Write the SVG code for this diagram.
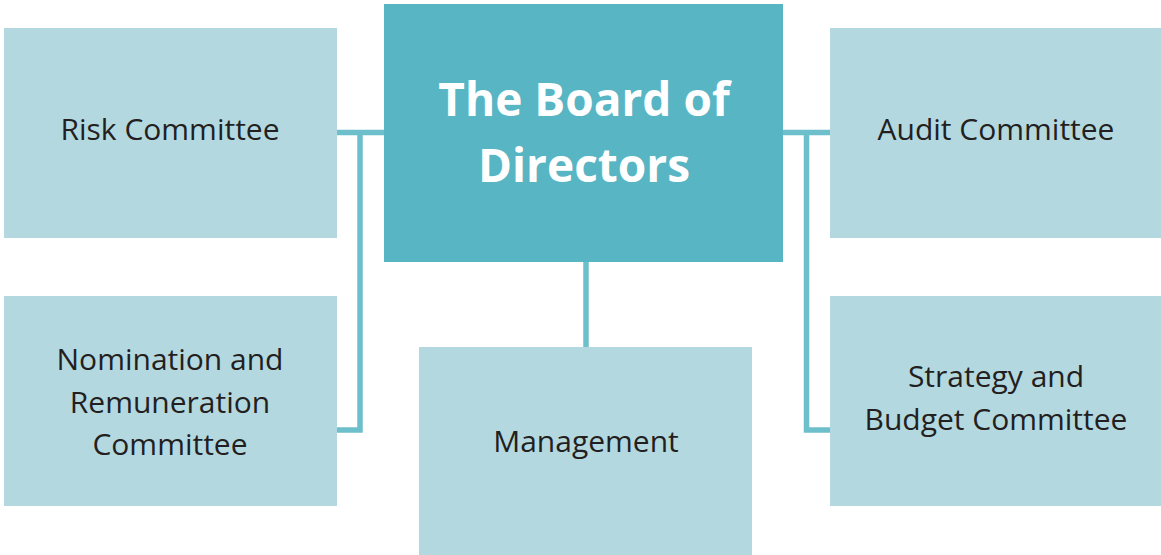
<svg xmlns="http://www.w3.org/2000/svg" width="1161" height="555" viewBox="0 0 1161 555">
<style>
.box{fill:#b4d8e0}
.board{fill:#58b5c4}
.lbl{font-family:"Open Sans","Noto Sans",sans-serif;font-size:30px;fill:#231f20;text-anchor:middle}
.title{font-family:"Open Sans","Noto Sans",sans-serif;font-size:46px;font-weight:bold;fill:#ffffff;text-anchor:middle}
.conn{fill:none;stroke:#6dbfcb;stroke-width:5.5}
</style>
<rect width="1161" height="555" fill="#ffffff"/>
<g id="connectors">
<path class="conn" d="M337,132.5 H384 M360,132.5 V430 H337"/>
<path class="conn" d="M783,132.5 H830 M806.5,132.5 V430 H830"/>
<path class="conn" d="M586,262 V347"/>
</g>
<g id="board">
<rect class="board" x="384" y="4" width="399" height="258"/>
<text class="title" x="584" y="116">The Board of</text>
<text class="title" x="584" y="182">Directors</text>
</g>
<g id="risk">
<rect class="box" x="4" y="28" width="333" height="210"/>
<text class="lbl" x="170" y="140">Risk Committee</text>
</g>
<g id="nomination">
<rect class="box" x="4" y="296" width="333" height="210"/>
<text class="lbl" x="170" y="370">Nomination and</text>
<text class="lbl" x="170" y="413">Remuneration</text>
<text class="lbl" x="170" y="455">Committee</text>
</g>
<g id="management">
<rect class="box" x="419" y="347" width="333" height="208"/>
<text class="lbl" x="586" y="452">Management</text>
</g>
<g id="audit">
<rect class="box" x="830" y="28" width="331" height="210"/>
<text class="lbl" x="996" y="140">Audit Committee</text>
</g>
<g id="strategy">
<rect class="box" x="830" y="296" width="331" height="210"/>
<text class="lbl" x="996" y="387">Strategy and</text>
<text class="lbl" x="996" y="430">Budget Committee</text>
</g>
</svg>
